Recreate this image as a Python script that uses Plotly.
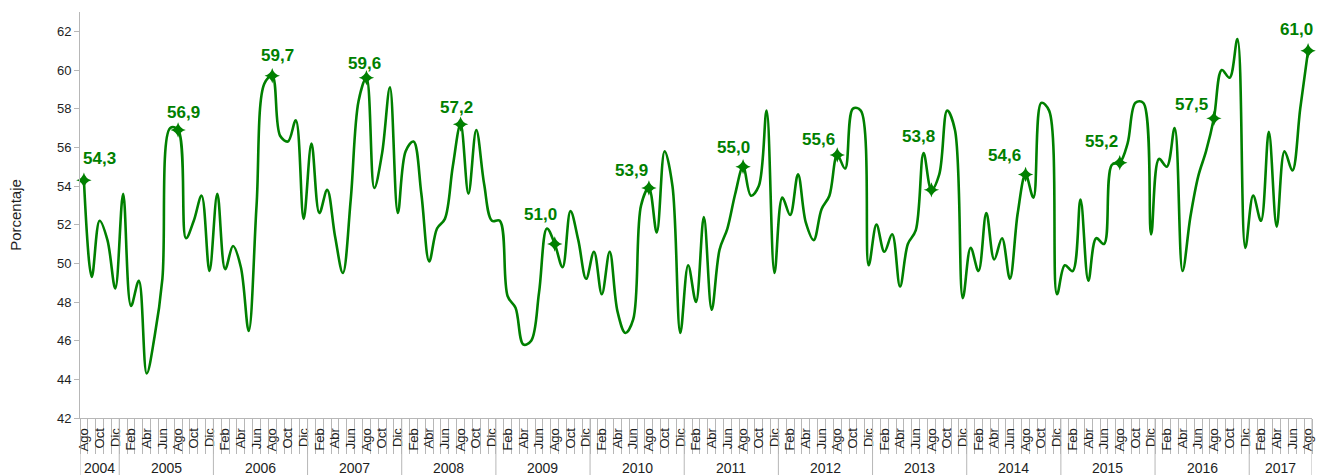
import plotly.graph_objects as go

# ---------------- data ----------------
meses_nombres = ["Ene", "Feb", "Mar", "Abr", "May", "Jun",
                 "Jul", "Ago", "Sep", "Oct", "Nov", "Dic"]
anios = [2004, 2005, 2006, 2007, 2008, 2009, 2010,
         2011, 2012, 2013, 2014, 2015, 2016, 2017]

v2004 = [54.3, 49.3, 52.2, 51.2, 48.7]  # Ago-Dic
v2005 = [53.6, 47.8, 49.1, 44.3, 46.2, 49.2, 57.0, 56.9, 51.3, 52.2, 53.5, 49.6]
v2006 = [53.6, 49.7, 50.9, 49.8, 46.5, 53.0, 59.3, 59.7, 56.6, 56.3, 57.4, 52.3]
v2007 = [56.2, 52.6, 53.8, 51.4, 49.5, 53.3, 58.4, 59.6, 53.9, 55.7, 59.1, 52.6]
v2008 = [55.8, 56.3, 53.6, 50.1, 51.8, 52.3, 55.0, 57.2, 53.6, 56.9, 54.1, 52.2]
v2009 = [52.2, 48.3, 47.7, 45.8, 46.0, 48.5, 51.8, 51.0, 49.8, 52.7, 51.2, 49.2]
v2010 = [50.6, 48.4, 50.6, 47.5, 46.4, 47.1, 53.0, 53.9, 51.6, 55.8, 54.0, 46.4]
v2011 = [49.9, 48.0, 52.4, 47.6, 50.7, 51.8, 53.6, 55.0, 53.5, 54.0, 57.9, 49.5]
v2012 = [53.4, 52.5, 54.6, 52.1, 51.2, 52.8, 53.5, 55.6, 54.9, 58.0, 57.9, 49.9]
v2013 = [52.0, 50.6, 51.5, 48.8, 51.0, 51.7, 55.7, 53.8, 54.6, 57.9, 56.9, 48.2]
v2014 = [50.8, 49.6, 52.6, 50.2, 51.3, 49.2, 52.6, 54.6, 53.4, 58.3, 57.9, 48.4]
v2015 = [49.9, 49.6, 53.3, 49.1, 51.3, 51.0, 55.1, 55.2, 56.2, 58.3, 58.3, 51.5]
v2016 = [55.4, 55.0, 57.0, 49.6, 52.4, 54.5, 55.8, 57.5, 60.0, 59.6, 61.6, 50.8]
v2017 = [53.5, 52.2, 56.8, 51.9, 55.8, 54.8, 58.0, 61.0]  # Ene-Ago

series_anio = [v2004, v2005, v2006, v2007, v2008, v2009, v2010,
               v2011, v2012, v2013, v2014, v2015, v2016, v2017]
mes_inicio = {2004: 7}  # first series starts in Ago

mes_destacado = "Ago"

# ---------------- build sequence ----------------
valores, meses, anio_de = [], [], []
for a, vals in zip(anios, series_anio):
    s = mes_inicio.get(a, 0)
    for k, v in enumerate(vals):
        valores.append(v)
        meses.append(meses_nombres[s + k])
        anio_de.append(a)
x = list(range(len(valores)))

idx_dest = [i for i, m in enumerate(meses) if m == mes_destacado]

# label offsets (pixels) for the highlighted points - style only
offsets = [(16, 22), (5, 17), (5, 20), (-2, 14), (-4, 17), (-14, 30), (-17, 17),
           (-10, 19), (-19, 16), (-13, 53), (-21, 19), (-18, 21), (-22, 14), (-12, 21)]

GREEN = "#008000"
AXIS = "#b7b7b7"
TXT = "#1e1e1e"
FONT = "Liberation Sans, Arial, sans-serif"

fig = go.Figure()
fig.add_trace(go.Scatter(
    x=x, y=valores, mode="lines",
    line=dict(color=GREEN, width=2.6, shape="spline", smoothing=1.0),
    hoverinfo="skip", showlegend=False))
fig.add_trace(go.Scatter(
    x=idx_dest, y=[valores[i] for i in idx_dest], mode="markers",
    marker=dict(symbol="star-diamond", size=11, color=GREEN),
    showlegend=False, cliponaxis=False))

annotations = []
for (i, (dx, dy)) in zip(idx_dest, offsets):
    annotations.append(dict(
        x=i, y=valores[i], xref="x", yref="y",
        text=f"{valores[i]:.1f}".replace(".", ","),
        showarrow=False, xshift=dx, yshift=dy,
        font=dict(family=FONT, size=17, color=GREEN, weight="bold")))

# year group labels and separators
shapes = []
n = len(valores)
for a in anios:
    ids = [i for i in x if anio_de[i] == a]
    c = (ids[0] + ids[-1]) / 2
    annotations.append(dict(
        x=c, y=-0.124, xref="x", yref="paper", text=str(a),
        showarrow=False, yanchor="middle",
        font=dict(family=FONT, size=14, color=TXT)))
    shapes.append(dict(type="line", xref="x", yref="paper",
                       x0=ids[0] - 0.5, x1=ids[0] - 0.5, y0=0, y1=-0.145,
                       line=dict(color=AXIS, width=1)))
shapes.append(dict(type="line", xref="x", yref="paper",
                   x0=n - 0.5, x1=n - 0.5, y0=0, y1=-0.145,
                   line=dict(color=AXIS, width=1)))

tick_idx = [i for i in x if i % 2 == 0]

fig.update_layout(
    width=1318, height=475,
    margin=dict(l=80, r=6, t=12, b=57),
    paper_bgcolor="white", plot_bgcolor="white",
    font=dict(family=FONT, color=TXT),
    annotations=annotations, shapes=shapes,
    xaxis=dict(
        range=[-0.5, n - 0.5], tickmode="array",
        tickvals=tick_idx, ticktext=[meses[i] for i in tick_idx],
        tickangle=-90, ticks="", showline=True, linecolor=AXIS, linewidth=1,
        showgrid=False, zeroline=False, automargin=False,
        ticklabelstandoff=4,
        tickfont=dict(family=FONT, size=13, color=TXT),
        minor=dict(ticks="outside", ticklen=35, tickcolor=AXIS, tickwidth=1,
                   tickmode="linear", tick0=-0.5, dtick=1, showgrid=False)),
    yaxis=dict(
        range=[42, 63], tickmode="array", tickvals=list(range(42, 63, 2)),
        ticks="outside", ticklen=5, tickcolor=AXIS, showline=True,
        linecolor=AXIS, linewidth=1, showgrid=False, zeroline=False,
        automargin=False, tickfont=dict(family=FONT, size=13, color=TXT),
        title=dict(text="Porcentaje", standoff=31,
                   font=dict(family=FONT, size=15, color=TXT))),
)

fig.write_html(
    "out.html",
    config={"displayModeBar": False},
    post_script="document.body.style.margin='0px';"
                "document.body.style.overflow='hidden';")
